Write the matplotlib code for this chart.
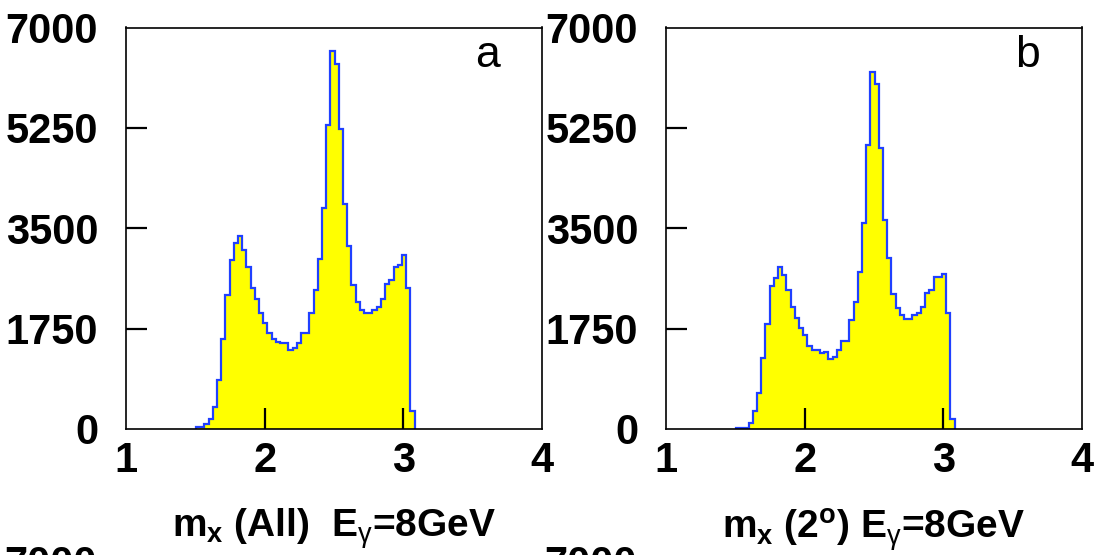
import numpy as np
import matplotlib
matplotlib.use('Agg')
import matplotlib.pyplot as plt

# ── Data ───────────────────────────────────────────────────────────────────────
bin_start = 1.505
bin_width = 0.0303

counts_all = [40, 40, 80, 170, 380, 860, 1565, 2330, 2950, 3240, 3370, 3120, 2820,
              2460, 2270, 2030, 1850, 1670, 1565, 1520, 1495, 1495, 1380, 1420,
              1505, 1670, 1670, 2015, 2430, 2965, 3860, 5300, 6585, 6370, 5230,
              3930, 3185, 2515, 2215, 2070, 2030, 2030, 2070, 2130, 2270, 2520,
              2600, 2820, 2860, 3035, 2465, 310]

counts_2deg = [20, 25, 25, 105, 310, 630, 1235, 1830, 2490, 2640, 2820, 2680, 2420,
               2130, 1940, 1755, 1640, 1450, 1380, 1380, 1320, 1350, 1220, 1260,
               1380, 1530, 1530, 1900, 2210, 2730, 3585, 4945, 6225, 6010, 4900,
               3650, 2990, 2355, 2110, 1985, 1925, 1925, 1985, 2015, 2120, 2370,
               2430, 2650, 2650, 2710, 2015, 170]

y_ticks = [0, 1750, 3500, 5250, 7000]
x_ticks = [1, 2, 3, 4]

panel_letters = ['a', 'b']
x_labels = [r'm$_{\mathbf{x}}$ (All)  E$_{\mathrm{\gamma}}$=8GeV',
            r'm$_{\mathbf{x}}$ (2$^{\mathbf{o}}$) E$_{\mathrm{\gamma}}$=8GeV']

# ── Style ─────────────────────────────────────────────────────────────────────
plt.rcParams['font.family'] = ['Liberation Sans', 'DejaVu Sans']
plt.rcParams['mathtext.fontset'] = 'custom'
plt.rcParams['mathtext.rm'] = 'Liberation Sans'
plt.rcParams['mathtext.bf'] = 'Liberation Sans:bold'
plt.rcParams['mathtext.it'] = 'Liberation Sans:italic'

FILL = '#ffff00'
EDGE = '#2040ff'

fig = plt.figure(figsize=(10.95, 5.55), dpi=100)

W, H = 1095, 555
ax_w, ax_h = 416 / W, 401.5 / H
bottom = (H - 429) / H
lefts = [126 / W, 666 / W]

for left, counts, letter, xlab in zip(lefts, [counts_all, counts_2deg],
                                      panel_letters, x_labels):
    ax = fig.add_axes([left, bottom, ax_w, ax_h])
    edges = bin_start + bin_width * np.arange(len(counts) + 1)

    ax.stairs(counts, edges, fill=True, color=FILL, zorder=1)
    ax.stairs(counts, edges, color=EDGE, linewidth=1.6, zorder=1.2)

    ax.set_xlim(1, 4)
    ax.set_ylim(0, 7000)
    ax.set_xticks(x_ticks)
    ax.set_yticks(y_ticks)
    ax.set_xticklabels([str(v) for v in x_ticks])
    ax.set_yticklabels([str(v) for v in y_ticks])
    ax.tick_params(axis='both', direction='in', length=15, width=1.6,
                   color='black', labelsize=30)
    ax.tick_params(axis='y', pad=20)
    ax.tick_params(axis='x', pad=9)
    for lab in ax.get_xticklabels() + ax.get_yticklabels():
        lab.set_fontweight('bold')
    # end ticks sit on the frame, hide their marks
    for tk in [ax.xaxis.get_major_ticks()[0], ax.xaxis.get_major_ticks()[-1],
               ax.yaxis.get_major_ticks()[0], ax.yaxis.get_major_ticks()[-1]]:
        tk.tick1line.set_visible(False)

    for sp in ax.spines.values():
        sp.set_linewidth(1.2)
        sp.set_color('black')
        sp.set_zorder(3)

    ax.text(0.870, 0.902, letter, transform=ax.transAxes, ha='center',
            va='baseline', fontsize=32)

    ax.set_xlabel(xlab, fontsize=28, fontweight='bold', labelpad=18)

# next row of panels, cut off at the bottom edge
for x_px in [97, 637]:
    fig.text(x_px / W, 10 / H, '7000', ha='right', va='top',
             fontsize=30, fontweight='bold')

fig.savefig('out.png', dpi=100)
